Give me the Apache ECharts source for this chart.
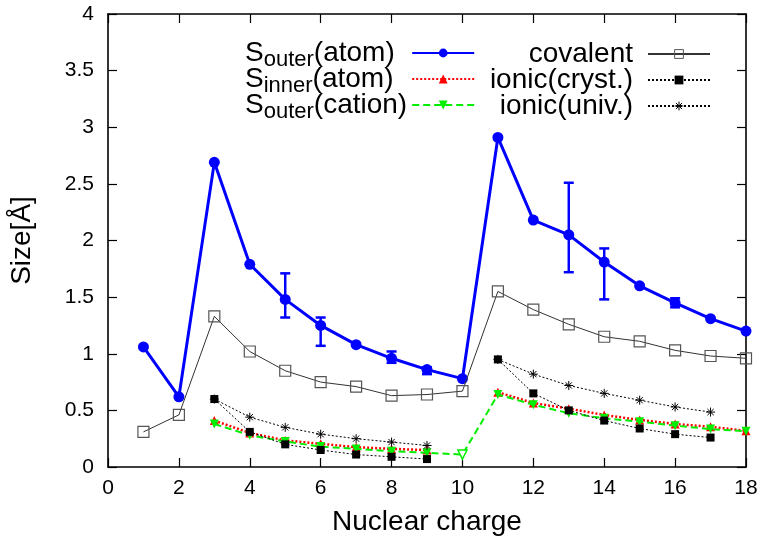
<!DOCTYPE html>
<html>
<head>
<meta charset="utf-8">
<script src="https://cdn.jsdelivr.net/npm/echarts@6/dist/echarts.min.js"></script>
<style>html,body{margin:0;padding:0;background:#fff;}#c{width:763px;height:545px;}</style>
</head>
<body>
<div id="c"></div>
<script>
// ---- data ----
const Z = [1,2,3,4,5,6,7,8,9,10,11,12,13,14,15,16,17,18];
const outerAtom   = [1.06,0.62,2.69,1.79,1.48,1.25,1.08,0.96,0.86,0.78,2.91,2.18,2.05,1.81,1.60,1.45,1.31,1.20];
const innerAtom   = [null,null,0.41,0.30,0.235,0.205,0.175,0.16,0.15,null,0.66,0.565,0.515,0.46,0.415,0.38,0.355,0.32];
const outerCation = [null,null,0.38,0.28,0.225,0.18,0.16,0.14,0.125,0.11,0.64,0.55,0.475,0.43,0.40,0.365,0.335,0.315];
const covalent    = [0.31,0.46,1.33,1.02,0.85,0.75,0.71,0.63,0.64,0.67,1.55,1.39,1.26,1.15,1.11,1.03,0.98,0.96];
const ionicCryst  = [null,null,0.60,0.31,0.20,0.15,0.11,0.09,0.07,null,0.95,0.65,0.50,0.41,0.34,0.29,0.26,null];
const ionicUniv   = [null,null,0.60,0.44,0.35,0.29,0.25,0.22,0.19,null,0.95,0.82,0.72,0.65,0.59,0.53,0.485,null];
// error bars on S_outer(atom)
const errZ    = [5,6,8,9,13,14,16];
const errLow  = [1.32,1.07,0.92,0.82,1.72,1.48,1.41];
const errHigh = [1.71,1.32,1.02,0.88,2.51,1.93,1.49];
const xTicks = {min:0, max:18, interval:2};
const yTicks = {min:0, max:4, interval:0.5};
const names = ['S_outer(atom)','S_inner(atom)','S_outer(cation)','covalent','ionic(cryst.)','ionic(univ.)'];
// legend label pieces: [main, subscript, rest]
const labelParts = [['S','outer','(atom)'],['S','inner','(atom)'],['S','outer','(cation)']];

// ---- build ----
const FONT = 'Liberation Sans, Arial, Helvetica, sans-serif';
const BIG = 28, SUB = 22;
const pairs = arr => Z.map((z,i) => [z, arr[i] == null ? '-' : arr[i]]);
const errData = errZ.map((z,i) => [z, errLow[i], errHigh[i]]);
const cationData = pairs(outerCation).map(p => p[0] === 10 ? {value:p, itemStyle:{color:'#ffffff', borderColor:'#00ee00', borderWidth:1.5}} : p);
const asterisk = 'path://M0,5L10,5M5,0L5,10M1.5,1.5L8.5,8.5M8.5,1.5L1.5,8.5';

// measure label widths so the left legend column can be left-aligned
const cv = document.createElement('canvas').getContext('2d');
const mw = (t, s) => { cv.font = s + 'px ' + FONT; return cv.measureText(t).width; };
const widths = labelParts.map(p => mw(p[0], BIG) + mw(p[1], SUB) + mw(p[2], BIG));
const maxW = Math.max.apply(null, widths);
const rich = {
  b: {fontSize:BIG, lineHeight:28, fontFamily:FONT, color:'#000'},
  s: {fontSize:SUB, lineHeight:14, padding:[14,0,0,0], fontFamily:FONT, color:'#000'}
};
const labels = {};
labelParts.forEach((p, i) => {
  rich['sp' + i] = {width: Math.max(0.01, maxW - widths[i]), fontSize:BIG, lineHeight:28};
  labels[names[i]] = '{b|' + p[0] + '}{s|' + p[1] + '}{b|' + p[2] + '}{sp' + i + '| }';
});

const axisLineStyle = {color:'#000', width:1.6};
const tickStyle = {show:true, inside:true, length:9, lineStyle:{color:'#000', width:1.2}};

const option = {
  animation: false,
  backgroundColor: '#fff',
  grid: {left:107, right:17, top:14, bottom:78, containLabel:false},
  legend: [
    {
      data: [{name:names[0]},{name:names[1]},{name:names[2]}],
      orient:'vertical', left:245, top:35, padding:0, itemGap:-10,
      align:'right', itemWidth:62, itemHeight:11, selectedMode:false,
      formatter: n => labels[n],
      textStyle: {color:'#000', fontFamily:FONT, rich: rich}
    },
    {
      data: [
        {name:names[3], itemStyle:{color:'rgba(0,0,0,0)', borderColor:'#555', borderWidth:1}},
        {name:names[4]},
        {name:names[5], itemStyle:{color:'rgba(0,0,0,0)', borderColor:'#000', borderWidth:1}}
      ],
      orient:'vertical', left:489, top:40, padding:0, itemGap:-2,
      align:'right', itemWidth:62, itemHeight:11, selectedMode:false,
      textStyle: {width:144, fontSize:BIG, lineHeight:28, padding:[0,10,0,0], color:'#000', fontFamily:FONT}
    }
  ],
  xAxis: [
    {
      type:'value', position:'bottom', min:xTicks.min, max:xTicks.max, interval:xTicks.interval,
      name:'Nuclear charge', nameLocation:'middle', nameGap:41,
      nameTextStyle:{fontSize:BIG, color:'#000', fontFamily:FONT},
      axisLine:{show:true, onZero:false, lineStyle:axisLineStyle}, axisTick:tickStyle,
      axisLabel:{fontSize:21, color:'#000', margin:11, fontFamily:FONT},
      splitLine:{show:false}
    },
    {
      type:'value', position:'top', min:xTicks.min, max:xTicks.max, interval:xTicks.interval,
      axisLine:{show:true, onZero:false, lineStyle:axisLineStyle}, axisTick:tickStyle,
      axisLabel:{show:false}, splitLine:{show:false}
    }
  ],
  yAxis: [
    {
      type:'value', position:'left', min:yTicks.min, max:yTicks.max, interval:yTicks.interval,
      name:'Size[Å]', nameLocation:'middle', nameGap:72,
      nameTextStyle:{fontSize:BIG, color:'#000', fontFamily:FONT},
      axisLine:{show:true, onZero:false, lineStyle:axisLineStyle}, axisTick:tickStyle,
      axisLabel:{fontSize:21, color:'#000', margin:14, fontFamily:FONT},
      splitLine:{show:false}
    },
    {
      type:'value', position:'right', min:yTicks.min, max:yTicks.max, interval:yTicks.interval,
      axisLine:{show:true, onZero:false, lineStyle:axisLineStyle}, axisTick:tickStyle,
      axisLabel:{show:false}, splitLine:{show:false}
    }
  ],
  series: [
    {
      name:names[0], type:'line', data:pairs(outerAtom),
      symbol:'circle', symbolSize:11,
      lineStyle:{color:'#0000ff', width:3}, itemStyle:{color:'#0000ff'}, z:3
    },
    {
      name:'errbars', type:'custom', data:errData, encode:{x:0, y:[1,2]}, z:3,
      renderItem: (params, api) => {
        const x = api.value(0), lo = api.value(1), hi = api.value(2);
        const pHi = api.coord([x, hi]), pLo = api.coord([x, lo]);
        const w = 5;
        const st = {stroke:'#0000ff', lineWidth:2.5};
        return {type:'group', children:[
          {type:'line', shape:{x1:pHi[0], y1:pHi[1], x2:pLo[0], y2:pLo[1]}, style:st},
          {type:'line', shape:{x1:pHi[0]-w, y1:pHi[1], x2:pHi[0]+w, y2:pHi[1]}, style:st},
          {type:'line', shape:{x1:pLo[0]-w, y1:pLo[1], x2:pLo[0]+w, y2:pLo[1]}, style:st}
        ]};
      }
    },
    {
      name:names[1], type:'line', data:pairs(innerAtom),
      symbol:'triangle', symbolSize:9,
      lineStyle:{color:'#ff0000', width:2.5, type:[2,2]}, itemStyle:{color:'#ff0000'}, z:4
    },
    {
      name:names[2], type:'line', data:cationData,
      symbol:'triangle', symbolRotate:180, symbolSize:9,
      lineStyle:{color:'#00ee00', width:2, type:[7,4]}, itemStyle:{color:'#00ee00'}, z:5
    },
    {
      name:names[3], type:'line', data:pairs(covalent),
      symbol:'rect', symbolSize:11,
      lineStyle:{color:'#333', width:1}, itemStyle:{color:'rgba(0,0,0,0)', borderColor:'#555', borderWidth:1.2}, z:6
    },
    {
      name:names[4], type:'line', data:pairs(ionicCryst),
      symbol:'rect', symbolSize:8,
      lineStyle:{color:'#000', width:1, type:[2,2]}, itemStyle:{color:'#000'}, z:7
    },
    {
      name:names[5], type:'line', data:pairs(ionicUniv),
      symbol:asterisk, symbolSize:9,
      lineStyle:{color:'#000', width:1, type:[2,2]}, itemStyle:{color:'rgba(0,0,0,0)', borderColor:'#000', borderWidth:1}, z:6
    }
  ]
};
const chart = echarts.init(document.getElementById('c'), null, {renderer:'canvas'});
chart.setOption(option);
</script>
</body>
</html>
